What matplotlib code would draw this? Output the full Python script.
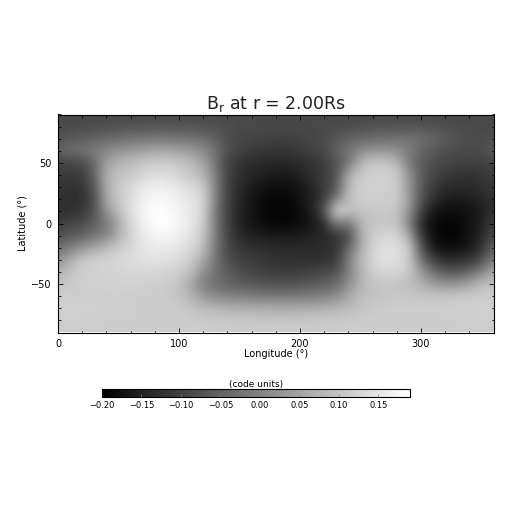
import numpy as np
import matplotlib
matplotlib.use("Agg")
import matplotlib.pyplot as plt
from matplotlib.ticker import FuncFormatter

VMIN, VMAX = -0.20, 0.19
longitudes = np.arange(0, 361, 10)
latitudes = np.arange(90, -91, -10)

# byte-scaled field level (0=VMIN, 255=VMAX) read along each latitude, lon 0..360 step 10
lat_p90 = [72] * 37
lat_p80 = [74,74,75,76,78,80,82,83,84,84,84,83,82,80,78,76,74,73,72,72,72,72,73,74,76,78,80,81,82,82,81,80,78,76,75,74,74]
lat_p70 = [82,88,92,98,104,110,114,116,118,118,116,114,108,95,78,70,67,65,64,64,66,70,75,88,96,102,106,110,114,115,112,102,90,82,77,75,78]
lat_p60 = [100,112,118,125,135,145,152,160,165,165,160,155,138,115,80,68,60,56,54,55,60,65,72,100,118,138,148,148,142,125,102,88,80,76,75,76,92]
lat_p50 = [70,68,74,105,160,178,188,198,205,205,198,188,165,115,65,52,44,40,38,38,44,52,62,80,115,180,200,200,182,120,92,78,70,66,65,66,70]
lat_p40 = [62,58,62,95,178,192,200,212,220,220,208,198,182,125,68,50,38,33,28,28,36,48,60,85,170,205,207,207,205,145,95,68,58,52,50,54,62]
lat_p30 = [55,50,52,85,175,200,215,232,238,238,228,218,205,130,62,42,28,18,14,14,22,38,60,85,188,205,208,208,205,150,88,60,45,42,44,48,55]
lat_p20 = [50,45,48,75,170,200,220,240,248,248,238,228,215,130,65,38,22,10,6,6,18,35,60,125,190,205,205,205,205,155,80,48,30,28,30,38,50]
lat_p10 = [48,48,55,80,150,190,222,245,253,250,242,230,215,120,65,35,20,8,3,4,14,32,85,225,195,195,200,200,198,150,65,25,14,12,18,30,50]
lat_000 = [60,68,75,95,115,170,215,240,254,255,246,232,208,120,65,35,20,10,6,6,12,22,45,130,115,185,195,197,195,130,38,12,6,8,20,32,65]
lat_m10 = [82,88,95,115,130,175,208,232,245,246,238,225,200,125,68,42,32,26,24,24,28,35,42,52,70,172,205,212,215,170,55,12,2,5,18,38,75]
lat_m20 = [110,125,145,165,185,200,215,228,235,235,228,218,190,120,70,55,50,46,43,42,42,42,45,52,100,170,212,225,222,205,80,25,12,14,25,48,105]
lat_m30 = [140,170,200,208,212,216,220,224,226,225,218,205,170,115,80,65,58,54,50,48,46,46,48,56,130,185,215,226,222,205,110,60,45,45,52,75,125]
lat_m40 = [175,195,205,208,210,212,215,216,215,212,205,190,145,115,90,78,70,64,60,60,62,66,72,82,125,180,205,215,215,200,155,110,85,85,100,130,172]
lat_m50 = [195,202,205,208,210,210,210,208,206,204,195,165,125,112,100,92,86,82,80,80,82,88,95,105,140,180,195,197,195,190,175,155,145,148,165,185,195]
lat_m60 = [205,205,205,205,205,205,205,204,203,200,195,178,150,135,127,125,122,119,117,117,119,123,127,140,168,188,195,197,198,198,197,196,197,200,202,204,205]
lat_m70 = [208,208,208,207,206,206,206,205,205,204,202,196,186,182,178,175,174,172,171,171,172,174,176,180,186,194,200,203,205,205,205,205,206,206,207,208,208]
lat_m80 = [206,206,206,206,205,205,205,205,205,204,204,203,202,201,200,199,199,198,198,198,198,199,200,201,202,203,204,205,205,205,205,205,205,206,206,206,206]
lat_m90 = [204] * 37

levels = np.array([lat_p90, lat_p80, lat_p70, lat_p60, lat_p50, lat_p40, lat_p30, lat_p20, lat_p10,
                   lat_000, lat_m10, lat_m20, lat_m30, lat_m40, lat_m50, lat_m60, lat_m70, lat_m80, lat_m90], float)
br = VMIN + levels / 255 * (VMAX - VMIN)

x_ticks = [0, 100, 200, 300]
y_ticks = [-50, 0, 50]
cbar_ticks = [-0.20, -0.15, -0.10, -0.05, 0.00, 0.05, 0.10, 0.15]

plt.rcParams['font.family'] = 'DejaVu Sans'
W = H = 512
fig = plt.figure(figsize=(W / 100, H / 100), dpi=100)
ax = fig.add_axes([58 / W, 1 - 332.5 / H, (493.5 - 58) / W, (332.5 - 114.5) / H])
im = ax.imshow(br, extent=[-5, 365, -95, 95], cmap='gray', vmin=VMIN, vmax=VMAX,
               interpolation='bicubic', aspect='auto')
ax.set_xlim(0, 360)
ax.set_ylim(-90, 90)
ax.set_xticks(x_ticks)
ax.set_yticks(y_ticks)
ax.set_xticks(np.arange(0, 361, 20), minor=True)
ax.set_yticks(np.arange(-90, 91, 10), minor=True)
ax.tick_params(which='major', direction='in', top=True, right=True, length=3.6, width=0.6, labelsize=7, pad=4.5)
ax.tick_params(which='minor', direction='in', top=True, right=True, length=1.8, width=0.6)
for s in ax.spines.values():
    s.set_linewidth(0.8)
ax.set_xlabel('Longitude (°)', fontsize=7, labelpad=0)
ax.set_ylabel('Latitude (°)', fontsize=7, labelpad=3)
ax.set_title(r'B$_{\mathrm{r}}$ at r = 2.00Rs', fontsize=12.5, pad=4, color='#222222')

cax = fig.add_axes([102 / W, 1 - 396.5 / H, (410 - 102) / W, 7.5 / H])
cb = fig.colorbar(im, cax=cax, orientation='horizontal', ticks=cbar_ticks)
cb.ax.tick_params(labelsize=6, length=2, width=0.5, direction='in', pad=3, color='#888888')
cb.ax.xaxis.set_major_formatter(FuncFormatter(lambda v, p: ('%.2f' % v).replace('-', '\u2212')))
cb.outline.set_linewidth(0.8)
cb.ax.set_title('(code units)', fontsize=6.5, pad=1.5)
fig.savefig('out.png', dpi=100)
